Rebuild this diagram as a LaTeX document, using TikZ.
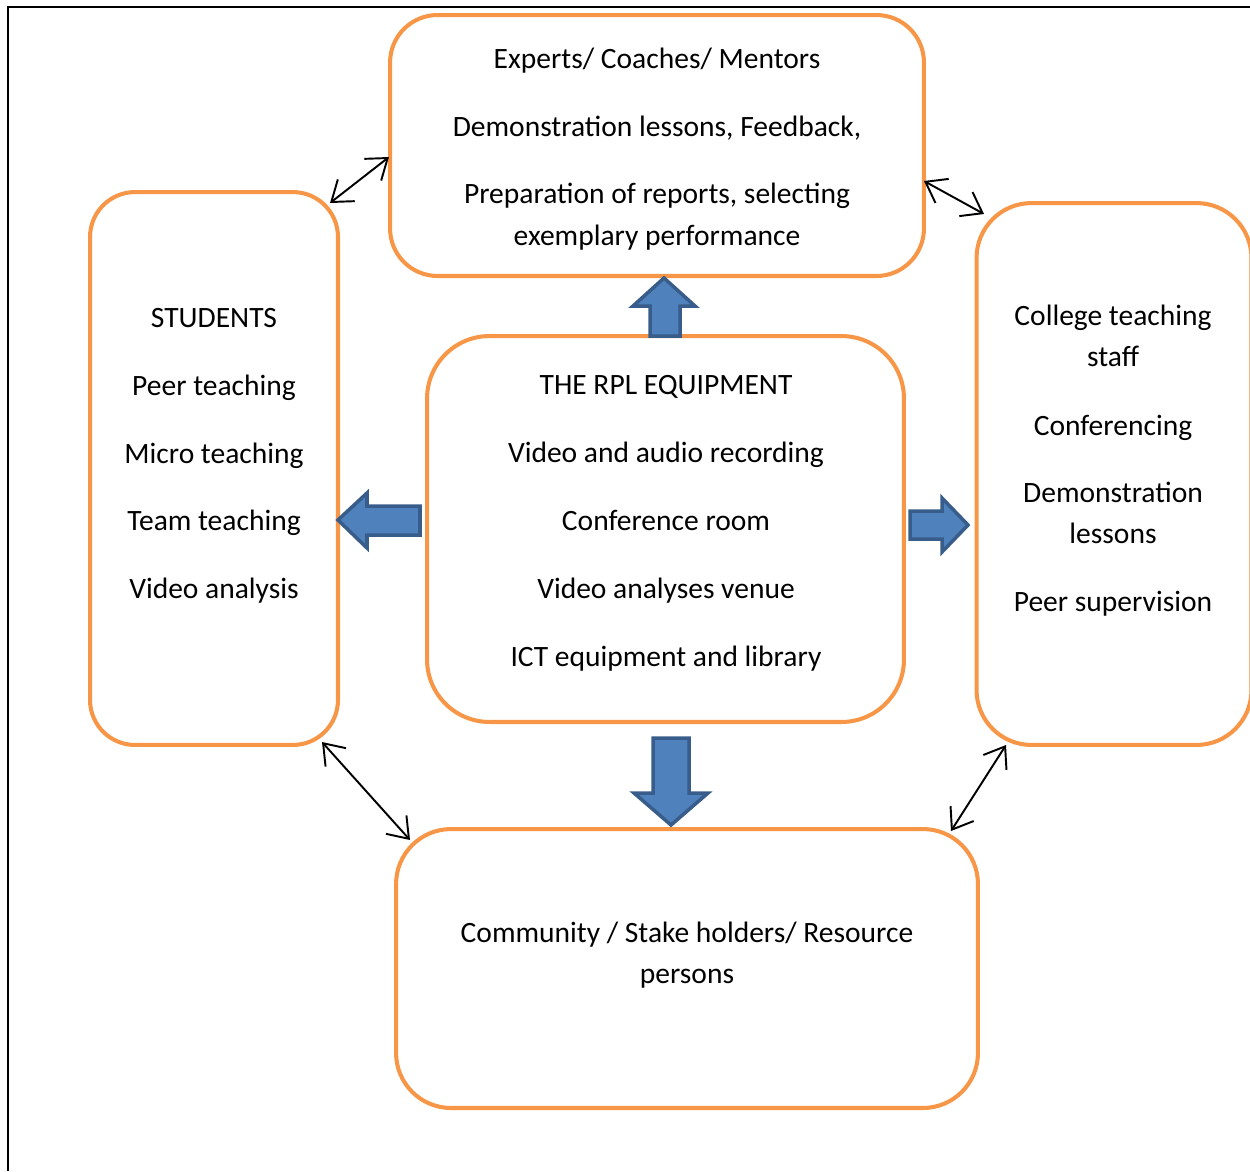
\documentclass[tikz,border=0pt]{standalone}
\usepackage{fontspec}
\setmainfont{Carlito}
\usetikzlibrary{arrows.meta}
\definecolor{boxorange}{HTML}{F79646}
\definecolor{arrfill}{HTML}{4F81BD}
\definecolor{arrdraw}{HTML}{385D8A}
\begin{document}
\begin{tikzpicture}[x=0.02cm,y=-0.02cm,
  box/.style={draw=boxorange, line width=2.3pt, inner sep=0pt},
  txt/.style={font=\fontsize{16.8}{19}\selectfont, anchor=mid, inner sep=0pt, yshift=-0.1cm},
  blockarrow/.style={fill=arrfill, draw=arrdraw, line width=2pt, line join=miter},
  dbl/.style={{Straight Barb[length=3.8mm,width=5.5mm]}-{Straight Barb[length=3.8mm,width=5.5mm]}, line width=1.1pt}]
\useasboundingbox (0,0) rectangle (1250,1171);
% frame (only left and top visible)
\draw[line width=1.2pt] (8,1171) -- (8,7) -- (1250,7);
% boxes
\node[box, rounded corners=0.95cm, minimum width=10.68cm, minimum height=5.22cm] (top) at (657,145.5) {};
\node[box, rounded corners=0.9cm, minimum width=4.96cm, minimum height=11.06cm] (left) at (214,468.5) {};
\node[box, rounded corners=1.25cm, minimum width=9.54cm, minimum height=7.72cm] (center) at (665.5,529) {};
\node[box, rounded corners=1.1cm, minimum width=5.5cm, minimum height=10.84cm] (right) at (1114,474) {};
\node[box, rounded corners=1.1cm, minimum width=11.64cm, minimum height=5.58cm] (bottom) at (687,968.5) {};
% texts
\node[txt] (t1) at (657,59) {Experts/ Coaches/ Mentors};
\node[txt] (t2) at (657,127) {Demonstration lessons, Feedback,};
\node[txt] (t3) at (657,194) {Preparation of reports, selecting};
\node[txt] (t4) at (657,236) {exemplary performance};
\node[txt] (l1) at (214,318) {STUDENTS};
\node[txt] (l2) at (214,386) {Peer teaching};
\node[txt] (l3) at (214,454) {Micro teaching};
\node[txt] (l4) at (214,521) {Team teaching};
\node[txt] (l5) at (214,589) {Video analysis};
\node[txt] (c1) at (666,385) {THE RPL EQUIPMENT};
\node[txt] (c2) at (666,453) {Video and audio recording};
\node[txt] (c3) at (666,521) {Conference room};
\node[txt] (c4) at (666,589) {Video analyses venue};
\node[txt] (c5) at (666,657) {ICT equipment and library};
\node[txt] (r1) at (1113,316) {College teaching};
\node[txt] (r2) at (1113,357) {staff};
\node[txt] (r3) at (1113,426) {Conferencing};
\node[txt] (r4) at (1113,493) {Demonstration};
\node[txt] (r5) at (1113,534) {lessons};
\node[txt] (r6) at (1113,602) {Peer supervision};
\node[txt] (b1) at (687,933) {Community / Stake holders/ Resource};
\node[txt] (b2) at (687,974) {persons};
% block arrows
\draw[blockarrow] (664,278) -- (695,306) -- (680,306) -- (680,336) -- (650,336) -- (650,306) -- (633,306) -- cycle;
\draw[blockarrow] (338,520) -- (367,493) -- (367,506) -- (420,506) -- (420,535) -- (367,535) -- (367,548) -- cycle;
\draw[blockarrow] (968,525) -- (942,498) -- (942,511) -- (910,511) -- (910,539) -- (942,539) -- (942,552) -- cycle;
\draw[blockarrow] (671,825) -- (708,793) -- (689,793) -- (689,738) -- (653,738) -- (653,793) -- (634,793) -- cycle;
% double arrows
\coordinate (a1) at (330,203); \coordinate (a2) at (389,157);
\coordinate (b1c) at (924,181); \coordinate (b2c) at (984,214);
\coordinate (d1) at (322,742); \coordinate (d2) at (410,840);
\coordinate (e1) at (951,831); \coordinate (e2) at (1006,745);
\draw[dbl] (a1) -- (a2);
\draw[dbl] (b1c) -- (b2c);
\draw[dbl] (d1) -- (d2);
\draw[dbl] (e1) -- (e2);
\end{tikzpicture}
\end{document}
